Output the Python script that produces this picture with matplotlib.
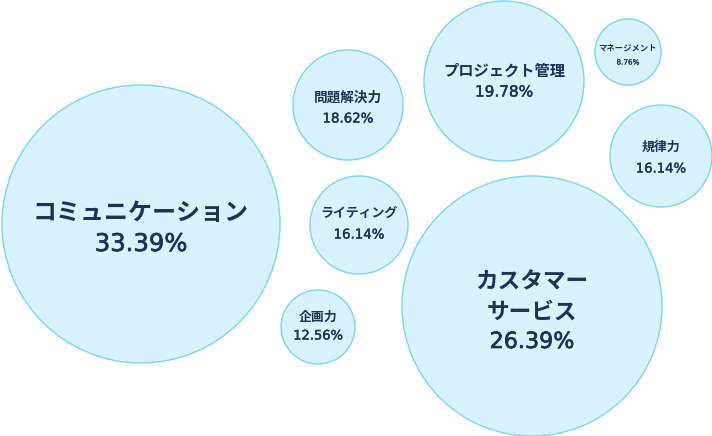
import matplotlib
matplotlib.use("Agg")
import matplotlib.pyplot as plt
from matplotlib.patches import Circle
import matplotlib.patheffects as pe

plt.rcParams['font.family'] = ['Noto Sans CJK JP', 'DejaVu Sans']

# Data
labels = ["コミュニケーション", "カスタマー\nサービス", "プロジェクト管理", "問題解決力",
          "ライティング", "規律力", "企画力", "マネージメント"]
values = [33.39, 26.39, 19.78, 18.62, 16.14, 16.14, 12.56, 8.76]

# Layout (pixel coordinates of bubble centres and radii), text styling
cx = [141, 532, 504, 348, 359, 661, 318, 628]
cy = [224, 306, 81, 105, 225, 156, 327, 52]
rad = [139, 130, 80, 55, 49, 51, 37, 33]
fs_label = [17.3, 16.3, 11, 9.8, 9.3, 9.3, 9.3, 6]
fs_value = [17.5, 16, 11, 9.6, 9.6, 9.5, 9.4, 5.2]
line_gap = [31, 30, 21, 21, 22, 22, 19, 14]
mid_off = [4.5, 6, 0.5, 3.5, -1, 2, -0.5, 3.5]
stroke = [0.5, 0.5, 0.35, 0.3, 0.3, 0.3, 0.3, 0.15]

W, H = 712, 436
fig = plt.figure(figsize=(W / 100, H / 100), dpi=100)
ax = fig.add_axes([0, 0, 1, 1])
ax.set_xlim(0, W)
ax.set_ylim(H, 0)
ax.set_aspect('equal')
ax.axis('off')

fill = '#d9f3fe'
edge = '#7fd3f5'
txt = '#1b3456'

for lab, v, x, y, r, fl, fv, gap, mo, sw in zip(labels, values, cx, cy, rad,
                                                fs_label, fs_value, line_gap, mid_off, stroke):
    ax.add_patch(Circle((x, y), r, facecolor=fill, edgecolor=edge, linewidth=1.0))
    lines = lab.split("\n") + [f"{v:.2f}%"]
    n = len(lines)
    top = y + mo - gap * (n - 1) / 2
    for i, line in enumerate(lines):
        yy = top + gap * i
        if i < n - 1:
            ax.text(x, yy, line, ha='center', va='center',
                    fontsize=fl, fontweight='bold', color=txt)
        else:
            ax.text(x, yy, line, ha='center', va='center', family='DejaVu Sans',
                    fontsize=fv, fontweight='normal', color=txt,
                    path_effects=[pe.withStroke(linewidth=sw, foreground=txt)])

fig.savefig("out.png", dpi=100)
